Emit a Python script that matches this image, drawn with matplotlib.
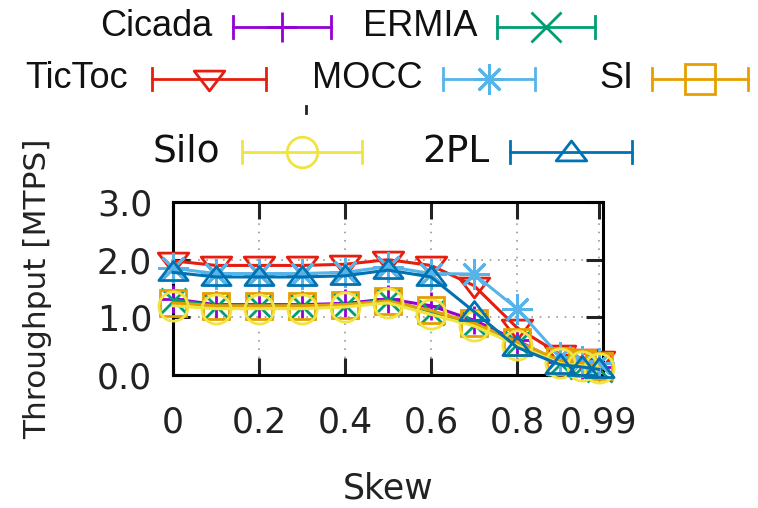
import matplotlib
matplotlib.use("Agg")
import matplotlib.pyplot as plt
from matplotlib.lines import Line2D
from matplotlib.path import Path

# skew values on the x axis
skew = [0, 0.1, 0.2, 0.3, 0.4, 0.5, 0.6, 0.7, 0.8, 0.9, 0.95, 0.99]

# throughput [MTPS]
tictoc = [1.98, 1.90, 1.90, 1.90, 1.92, 2.00, 1.90, 1.55, 0.82, 0.36, 0.30, 0.26]
mocc = [1.85, 1.76, 1.76, 1.76, 1.78, 1.88, 1.76, 1.75, 1.15, 0.32, 0.25, 0.20]
twopl = [1.78, 1.70, 1.70, 1.70, 1.72, 1.82, 1.70, 1.10, 0.48, 0.18, 0.14, 0.10]
ermia = [1.30, 1.20, 1.20, 1.20, 1.22, 1.30, 1.10, 0.88, 0.55, 0.20, 0.15, 0.10]
cicada = [1.32, 1.22, 1.22, 1.22, 1.24, 1.32, 1.20, 0.95, 0.60, 0.22, 0.18, 0.14]
si = [1.25, 1.20, 1.20, 1.20, 1.22, 1.28, 1.12, 0.90, 0.58, 0.25, 0.20, 0.15]
silo = [1.20, 1.15, 1.15, 1.15, 1.18, 1.25, 1.05, 0.85, 0.52, 0.20, 0.16, 0.12]

xticks = [0, 0.2, 0.4, 0.6, 0.8, 0.99]
xticklabels = ["0", "0.2", "0.4", "0.6", "0.8", "0.99"]
yticks = [0, 1, 2, 3]
yticklabels = ["0.0", "1.0", "2.0", "3.0"]

# wide, flat triangles like in the picture
tri_up = Path([(-1, -0.55), (1, -0.55), (0, 0.75), (-1, -0.55)],
              [Path.MOVETO, Path.LINETO, Path.LINETO, Path.CLOSEPOLY])
tri_down = Path([(-1, 0.55), (1, 0.55), (0, -0.75), (-1, 0.55)],
                [Path.MOVETO, Path.LINETO, Path.LINETO, Path.CLOSEPOLY])

# name, values, colour, marker, marker size
series = [
    ("Cicada", cicada, "#9400d3", "+", 20),
    ("ERMIA", ermia, "#009e73", "x", 18),
    ("TicToc", tictoc, "#e51e10", tri_down, 22),
    ("MOCC", mocc, "#56b4e9", (8, 2, 0), 22),
    ("SI", si, "#e69f00", "s", 19),
    ("Silo", silo, "#f0e442", "o", 21),
    ("2PL", twopl, "#0072b2", tri_up, 21),
]

W, H = 758, 508
fig = plt.figure(figsize=(W / 100, H / 100), dpi=100)
ax = fig.add_axes([173 / W, 1 - 375 / H, 430 / W, 173 / H])

for name, vals, col, mk, ms in series:
    ax.plot(skew, vals, color=col, marker=mk, markersize=ms, mfc="none",
            mew=2, lw=2.2, clip_on=False, zorder=3)

ax.set_xlim(0, 1)
ax.set_ylim(0, 3)
ax.set_xticks(xticks)
ax.set_xticklabels(xticklabels)
ax.set_yticks(yticks)
ax.set_yticklabels(yticklabels)
ax.tick_params(direction="in", length=12, width=2.2, top=True, right=True,
               labelsize=25, colors="#222222")
ax.tick_params(axis="x", pad=22)
ax.tick_params(axis="y", pad=15)
ax.grid(True, ls=(0, (1, 4)), color="#999999", lw=1.2)
for s in ax.spines.values():
    s.set_linewidth(2.2)
ax.set_xlabel("Skew", fontsize=25, color="#222222")
ax.set_ylabel("Throughput [MTPS]", fontsize=22.5, color="#222222")
ax.xaxis.set_label_coords(0.5, -0.56)
ax.yaxis.set_label_coords(-0.28, 0.5)

# legend drawn above the plot, gnuplot style
def fx(px):
    return px / W

def fy(py):
    return 1 - py / H

legend_rows = [
    # name, text right edge, y, line start, line end, font family, size
    ("Cicada", 212, 27, 233, 331, "Liberation Sans", 26),
    ("ERMIA", 477, 27, 497, 595, "Liberation Sans", 26),
    ("TicToc", 128, 79, 152, 266, "Liberation Sans", 26),
    ("MOCC", 423, 79, 443, 535, "Liberation Sans", 26),
    ("SI", 633, 79, 652, 748, "Liberation Sans", 26),
    ("Silo", 220, 152, 242, 362, "DejaVu Sans", 27),
    ("2PL", 489, 152, 510, 632, "DejaVu Sans", 27),
]
style = {name: (col, mk) for name, vals, col, mk, ms in series}
for name, tx, ty, l0, l1, fam, fs in legend_rows:
    col, mk = style[name]
    fig.text(fx(tx), fy(ty), name, ha="right", va="center", fontsize=fs,
             family=fam, color="#111111")
    fig.add_artist(Line2D([fx(l0), fx(l1)], [fy(ty), fy(ty)], color=col, lw=2,
                          transform=fig.transFigure))
    for e in (l0, l1):
        fig.add_artist(Line2D([fx(e), fx(e)], [fy(ty - 11), fy(ty + 11)], color=col,
                              lw=2, transform=fig.transFigure))
    fig.add_artist(Line2D([fx((l0 + l1) / 2)], [fy(ty)], color=col, marker=mk,
                          markersize=22, mfc="none", mew=2,
                          transform=fig.transFigure))

# small stray mark between the legend rows
fig.add_artist(Line2D([fx(306), fx(306)], [fy(106), fy(113)], color="#222222",
                      lw=2, transform=fig.transFigure))

fig.savefig("out.png", dpi=100)
